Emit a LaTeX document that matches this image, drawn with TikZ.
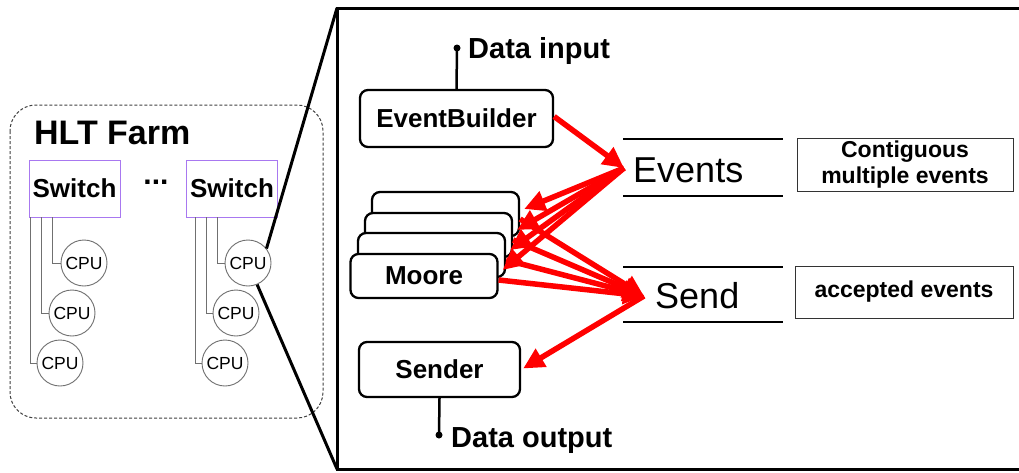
\documentclass[tikz,border=0pt]{standalone}
\usepackage{fontspec}
\setmainfont{Liberation Sans}
\usetikzlibrary{arrows.meta,calc}
\definecolor{swpurple}{HTML}{A878F0}
\definecolor{wiregray}{HTML}{707070}
\begin{document}
\begin{tikzpicture}[x=1pt,y=-1pt,
  swbox/.style={draw=swpurple, line width=0.9pt, minimum width=91pt, minimum height=57pt, inner sep=0pt, font=\fontsize{26}{30}\selectfont\bfseries},
  cpu/.style={circle, draw=wiregray, line width=0.9pt, fill=white, minimum size=46pt, inner sep=0pt, font=\fontsize{17.5}{20}\selectfont},
  wire/.style={draw=wiregray, line width=0.9pt},
  rbox/.style={draw, line width=2.3pt, rounded corners=8pt, fill=white, inner sep=0pt, font=\fontsize{26}{30}\selectfont\bfseries},
  infobox/.style={draw=black!80, line width=1pt, inner sep=0pt, align=center, font=\fontsize{23}{26}\selectfont\bfseries},
  rarr/.style={draw=red, line width=5.5pt, -{Triangle[length=21pt,width=20pt]}},
  big/.style={font=\fontsize{36}{40}\selectfont},
  port/.style={font=\fontsize{29}{32}\selectfont\bfseries},
  dotc/.style={circle, fill=black, inner sep=0pt, minimum size=7pt},
  thick3/.style={line width=3pt},
  bar/.style={line width=2.5pt}
]
\useasboundingbox (0,0) rectangle (1019,472);
\fill[white] (0,0) rectangle (1019,472);

% HLT farm
\draw[dash pattern=on 3pt off 2pt, line width=1pt, black!75, rounded corners=26pt] (10,105) rectangle (323,418);
\node[anchor=base west, font=\fontsize{34}{38}\selectfont\bfseries, inner sep=0pt] (hlt) at (34,144) {HLT Farm};

\node[swbox] (sw1) at (74.5,188.5) {Switch};
\node[swbox] (sw2) at (232,188.5) {Switch};
\node[font=\fontsize{30}{34}\selectfont\bfseries] (dots) at (156,182) {...};

\node[cpu] (la) at (84,263) {CPU};
\node[cpu] (lb) at (72,313) {CPU};
\node[cpu] (lc) at (60,363) {CPU};
\node[cpu] (ra) at (248,263) {CPU};
\node[cpu] (rb) at (236,313) {CPU};
\node[cpu] (rc) at (225,363) {CPU};

\draw[wire] ($(sw1.south west)+(24,0)$) |- (la.west);
\draw[wire] ($(sw1.south west)+(13,0)$) |- (lb.west);
\draw[wire] ($(sw1.south west)+(1.5,0)$) |- (lc.west);
\draw[wire] ($(sw2.south west)+(31,0)$) |- (ra.west);
\draw[wire] ($(sw2.south west)+(20,0)$) |- (rb.west);
\draw[wire] ($(sw2.south west)+(9,0)$) |- (rc.west);

% big box and zoom lines
\coordinate (bxtl) at (337,8);
\coordinate (bxbl) at (337,469);
\draw[thick3] (1030,8) -- (bxtl) -- (bxbl) -- (1030,469);
\draw[thick3] (bxtl) -- (ra.38);
\draw[thick3] (bxbl) -- (ra.-67);

% processes
\node[rbox, minimum width=193pt, minimum height=57pt] (eb) at (456.5,118.5) {EventBuilder};
\node[rbox, minimum width=147pt, minimum height=44pt] (m1) at (445.5,214) {};
\node[rbox, minimum width=147pt, minimum height=44pt] (m2) at (438.5,235) {};
\node[rbox, minimum width=147pt, minimum height=44pt] (m3) at (431.5,255) {};
\node[rbox, minimum width=147pt, minimum height=44pt] (m4) at (424,276) {Moore};
\node[rbox, minimum width=161pt, minimum height=55pt] (snd) at (439.5,369.5) {Sender};

% data in / out
\node[dotc] (din) at (457,48) {};
\draw[line width=2.5pt] (din.center) -- (eb.north);
\node[port, anchor=base west, inner sep=0pt] (dintxt) at (468,58) {Data input};
\node[dotc] (dout) at (439,435) {};
\draw[line width=2.5pt] (snd.south) -- (dout.center);
\node[port, anchor=base west, inner sep=0pt] (douttxt) at (451,447) {Data output};

% buffers
\draw[bar] (623,139) -- (783,139);
\draw[bar] (623,196) -- (783,196);
\node[big, anchor=base west, inner sep=0pt] (evt) at (633,182) {Events};
\draw[bar] (623,267) -- (783,267);
\draw[bar] (623,322) -- (783,322);
\node[big, anchor=base west, inner sep=0pt] (sendt) at (655,308) {Send};
\coordinate (evhub) at (624,168);
\coordinate (sdhub) at (644,296);

\node[infobox, minimum width=216pt, minimum height=53pt] (ctg) at (905,164.5) {Contiguous\\multiple events};
\node[infobox, minimum width=218pt, minimum height=52pt] (acc) at (904,292) {accepted events};

% red arrows
\draw[rarr] ($(eb.east)+(0,-2)$) -- (evhub);
\draw[rarr] (evhub) -- ($(m1.east)+(4,-5)$);
\draw[rarr] (evhub) -- ($(m2.east)+(4,-5)$);
\draw[rarr] (evhub) -- ($(m3.east)+(4,-5)$);
\draw[rarr] (evhub) -- ($(m4.east)+(4,-6)$);
\draw[rarr] ($(m1.east)+(0,5)$) -- (sdhub);
\draw[rarr] ($(m2.east)+(0,5)$) -- (sdhub);
\draw[rarr] ($(m3.east)+(0,5)$) -- (sdhub);
\draw[rarr] ($(m4.east)+(0,4)$) -- (sdhub);
\draw[rarr] (sdhub) -- ($(snd.east)+(2,-1)$);
\end{tikzpicture}
\end{document}
